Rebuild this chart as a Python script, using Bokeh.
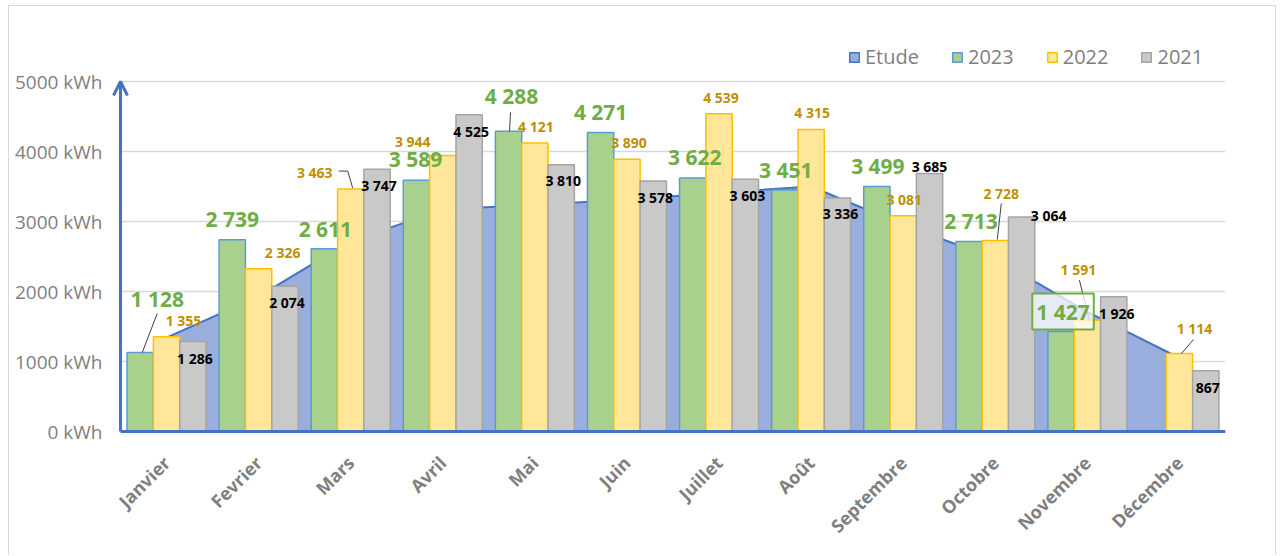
import math
import numpy as np
from bokeh.plotting import figure
from bokeh.models import (Range1d, FixedTicker, Arrow, OpenHead, LabelSet, Label,
                          ColumnDataSource, Legend, LegendItem)
from bokeh.core.properties import value
from bokeh.embed import file_html
from bokeh.resources import INLINE

# ---------------- data ----------------
months = ["Janvier", "Fevrier", "Mars", "Avril", "Mai", "Juin", "Juillet", "Août",
          "Septembre", "Octobre", "Novembre", "Décembre"]
etude = [1340, 1930, 2720, 3170, 3240, 3310, 3410, 3500, 2950, 2470, 1710, 1050]
y2023 = [1128, 2739, 2611, 3589, 4288, 4271, 3622, 3451, 3499, 2713, 1427, float("nan")]
y2022 = [1355, 2326, 3463, 3944, 4121, 3890, 4539, 4315, 3081, 2728, 1591, 1114]
y2021 = [1286, 2074, 3747, 4525, 3810, 3578, 3603, 3336, 3685, 3064, 1926, 867]
y_ticks = [0, 1000, 2000, 3000, 4000, 5000]
series_names = ["Etude", "2023", "2022", "2021"]

# ---------------- layout / style ----------------
FONT = "Open Sans"
W, H = 1268, 550
PX_X = 12.0 / 1105          # data units per screen pixel (x)
PX_Y = 1000.0 / 70          # data units per screen pixel (y)
PAD_L, PAD_B = 10, 4        # frame extends a little beyond the drawn axes
BL, BT, BB = 101, 15, 121
FW = 1105 + PAD_L
BR = W - BL - FW
YMAX = y_ticks[-1] + 60 * PX_Y
YMIN = -PAD_B * PX_Y
BW = 0.286

# label offsets in screen pixels (relative to top centre of each bar)
off23_dx = [17, 0, 1, -1, 3, 0, 2, 1, 1, 2, 2, 0]
off23_dy = [54, 21, 20, 21, 35, 21, 21, 20, 21, 21, 20, 0]
off22_dx = [17, 24, -36, -30, 1, 2, 2, 1, 1, 6, -9, 15]
off22_dy = [16, 16, 17, 14, 17, 17, 16, 17, 16, 47, 51, 25]
off21_dx = [2, 2, 2, 2, 2, 2, 2, 3, 0, 27, 3, 2]
off21_dy = [-17, -16, -16, -17, -16, -16, -16, -16, 7, 2, -17, -17]

GREEN, GREEN_T = "#A9D18E", "#70AD47"
YELLOW, GOLD = "#FFE699", "#BF9000"
GREY = "#C9C9C9"
BLUE = "#4472C4"
AREA = "#9AAEDD"

idx = np.arange(len(months))
x0 = -0.5
x1 = len(months) - 0.5

p = figure(width=W, height=H, x_range=Range1d(x0 - PAD_L * PX_X, x1), y_range=Range1d(YMIN, YMAX),
           output_backend="svg", toolbar_location=None,
           min_border_left=BL, min_border_right=BR, min_border_top=BT, min_border_bottom=BB)
p.outline_line_color = None
p.styles = {"margin-left": "8px", "margin-top": "5px",
            "border-left": "1px solid #D9D9D9", "border-top": "1px solid #D9D9D9",
            "border-right": "1px solid #D9D9D9"}

# grid lines
gt = y_ticks[1:]
p.segment(x0=[x0] * len(gt), x1=[x1] * len(gt), y0=gt, y1=gt,
          line_color="#D9D9D9", line_width=1.5, level="underlay")

# area (Etude)
p.varea(x=idx, y1=0, y2=etude, fill_color=AREA, fill_alpha=1.0)
p.line(x=idx, y=etude, line_color=BLUE, line_width=2)

# bars
x23 = idx - BW
x22 = idx.astype(float)
x21 = idx + BW
r23 = p.vbar(x=x23, top=y2023, width=BW, fill_color=GREEN, line_color="#5B9BD5", line_width=1.5)
r22 = p.vbar(x=x22, top=y2022, width=BW, fill_color=YELLOW, line_color="#FFC000", line_width=1.5)
r21 = p.vbar(x=x21, top=y2021, width=BW, fill_color=GREY, line_color="#A5A5A5", line_width=1.5)
r_et = p.vbar(x=[0], top=[float("nan")], width=BW, fill_color=AREA, line_color=BLUE, line_width=1.5)

# axis lines
p.segment(x0=[x0], x1=[x1], y0=[y_ticks[0]], y1=[y_ticks[0]], line_color=BLUE, line_width=3)
p.add_layout(Arrow(end=OpenHead(size=14, line_color=BLUE, line_width=3),
                   x_start=x0, y_start=y_ticks[0], x_end=x0, y_end=y_ticks[-1],
                   line_color=BLUE, line_width=3))

# leader lines
leaders = [
    (x23, y2023, 0, [(17, 39), (2, 0)]),
    (x23, y2023, 4, [(2, 19), (1, 0)]),
    (x22, y2022, 2, [(-12, 18), (-3, 18), (2, 1)]),
    (x22, y2022, 9, [(6, 37), (2, 1)]),
    (x22, y2022, 10, [(-8, 40), (2, 0)]),
    (x22, y2022, 11, [(14, 14), (2, 0)]),
]
lx, ly = [], []
for xs, ys, i, pts in leaders:
    lx.append([xs[i] + dx * PX_X for dx, dy in pts])
    ly.append([ys[i] + dy * PX_Y for dx, dy in pts])
p.multi_line(xs=lx, ys=ly, line_color="#404040", line_width=1)


def fmt(v):
    return f"{int(v):,}".replace(",", " ")


# 2023 labels (Novembre separately with a box)
box_i = 10
m23 = [i for i in range(12) if not math.isnan(y2023[i]) and i != box_i]
s23 = ColumnDataSource(dict(x=[x23[i] for i in m23], y=[y2023[i] for i in m23],
                            t=[fmt(y2023[i]) for i in m23],
                            dx=[off23_dx[i] for i in m23], dy=[off23_dy[i] for i in m23]))
p.add_layout(LabelSet(x="x", y="y", text="t", x_offset="dx", y_offset="dy", source=s23,
                      text_align="center", text_baseline="middle", text_color=GREEN_T,
                      text_font=value(FONT), text_font_style="bold", text_font_size="21px"))
p.add_layout(Label(x=x23[box_i], y=y2023[box_i], x_offset=off23_dx[box_i], y_offset=off23_dy[box_i],
                   text=fmt(y2023[box_i]), text_align="center", text_baseline="middle",
                   text_color=GREEN_T, text_font=FONT, text_font_style="bold", text_font_size="21px",
                   border_line_color=GREEN_T, border_line_width=2,
                   background_fill_color="white", background_fill_alpha=0.75, padding=4))

s22 = ColumnDataSource(dict(x=x22, y=y2022, t=[fmt(v) for v in y2022], dx=off22_dx, dy=off22_dy))
p.add_layout(LabelSet(x="x", y="y", text="t", x_offset="dx", y_offset="dy", source=s22,
                      text_align="center", text_baseline="middle", text_color=GOLD,
                      text_font=value(FONT), text_font_style="bold", text_font_size="14px"))
s21 = ColumnDataSource(dict(x=x21, y=y2021, t=[fmt(v) for v in y2021], dx=off21_dx, dy=off21_dy))
p.add_layout(LabelSet(x="x", y="y", text="t", x_offset="dx", y_offset="dy", source=s21,
                      text_align="center", text_baseline="middle", text_color="black",
                      text_font=value(FONT), text_font_style="bold", text_font_size="14px"))

# axes
p.yaxis.ticker = FixedTicker(ticks=y_ticks)
p.yaxis.major_label_overrides = {t: f"{t} kWh" for t in y_ticks}
p.yaxis.axis_line_color = None
p.yaxis.major_tick_line_color = None
p.yaxis.minor_tick_line_color = None
p.yaxis.major_tick_out = 0
p.yaxis.minor_tick_out = 0
p.yaxis.major_label_standoff = 8
p.yaxis.major_label_text_font = FONT
p.yaxis.major_label_text_font_size = "19px"
p.yaxis.major_label_text_color = "#7F7F7F"

p.xaxis.ticker = FixedTicker(ticks=list(idx))
p.xaxis.major_label_overrides = {int(i): m for i, m in zip(idx, months)}
p.xaxis.major_label_orientation = math.pi / 4
p.xaxis.axis_line_color = None
p.xaxis.major_tick_line_color = None
p.xaxis.minor_tick_line_color = None
p.xaxis.major_label_standoff = 18
p.xaxis.major_label_text_font = FONT
p.xaxis.major_label_text_font_size = "18px"
p.xaxis.major_label_text_font_style = "bold"
p.xaxis.major_label_text_color = "#7F7F7F"

p.xgrid.visible = False
p.ygrid.visible = False

legend = Legend(items=[LegendItem(label=series_names[0], renderers=[r_et]),
                       LegendItem(label=series_names[1], renderers=[r23]),
                       LegendItem(label=series_names[2], renderers=[r22]),
                       LegendItem(label=series_names[3], renderers=[r21])],
                orientation="horizontal", location=(738, 365), glyph_width=12, glyph_height=12,
                label_standoff=5, spacing=32, padding=0, margin=0,
                border_line_color=None, background_fill_alpha=0,
                label_text_font=FONT, label_text_font_size="20px", label_text_color="#7F7F7F")
p.add_layout(legend)

open("out.html", "w").write(file_html(p, INLINE))
